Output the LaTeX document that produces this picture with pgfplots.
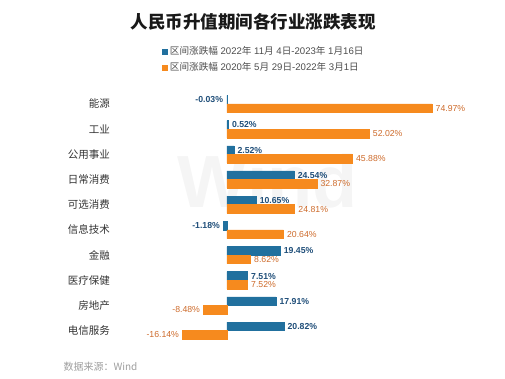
\documentclass[border=0pt]{standalone}
\usepackage{pgfplots}
\pgfplotsset{compat=1.18}
\usepackage{fontspec}
\setmainfont{Liberation Sans}
\newfontfamily\cjk{Noto Sans CJK SC}
\definecolor{barblue}{HTML}{21709E}
\definecolor{barorange}{HTML}{F68A1E}
\definecolor{lblblue}{HTML}{1F4E79}
\definecolor{lblorange}{HTML}{CD6A2A}
\begin{document}
\begin{tikzpicture}[x=1pt,y=1pt]
\useasboundingbox (0,0) rectangle (505,379);
\node[text=black!4, font=\bfseries\fontsize{74}{74}\selectfont] at (268,198) {Wind};
\node[font=\cjk\bfseries\fontsize{17.5}{20}\selectfont, text=black!90] at (253,357) {人民币升值期间各行业涨跌表现};
\node[anchor=west, font=\cjk\fontsize{10}{12}\selectfont, text=black!38] at (60,12) {数据来源：Wind};
\begin{axis}[
  at={(112pt,35.7pt)}, anchor=south west,
  scale only axis, width=333.7pt, height=251.9pt,
  xbar, bar width=8.6pt,
  xmin=-42, xmax=80, ymin=-0.5, ymax=9.5,
  axis line style={draw=none}, xtick=\empty,
  ytick={0,...,9}, major tick length=0pt,
  yticklabels={电信服务,房地产,医疗保健,金融,信息技术,可选消费,日常消费,公用事业,工业,能源},
  yticklabel style={font=\cjk\fontsize{10.5}{12}\selectfont, text=black!80, inner sep=2pt},
  clip=false,
  point meta=x,
  nodes near coords={\pgfmathprintnumber[fixed,precision=2,fixed zerofill,assume math mode=true]{\pgfplotspointmeta}\%},
  nodes near coords align={horizontal},
  legend style={at={(0.150,1.186)}, anchor=north west, draw=none, fill=none, inner sep=0pt,
    font=\fontsize{9.6}{12}\selectfont, text=black!70, row sep=2.5pt, cells={anchor=west}},
  legend cell align=left,
  legend image code/.code={\fill[#1] (0pt,-2.6pt) rectangle (5.2pt,2.6pt);},
]
\addplot[fill=barblue, draw=barblue, line width=0.5pt, bar shift=4.3pt,
  every node near coord/.append style={text=lblblue, font=\bfseries\fontsize{8.7}{10}\selectfont, inner xsep=3.5pt, inner ysep=1pt}]
  coordinates {(-0.03,9) (0.52,8) (2.52,7) (24.54,6) (10.65,5) (-1.18,4) (19.45,3) (7.51,2) (17.91,1) (20.82,0)};
\addlegendentry{{\cjk 区间涨跌幅} 2022{\cjk 年} 11{\cjk 月} 4{\cjk 日}-2023{\cjk 年} 1{\cjk 月}16{\cjk 日}}
\addplot[fill=barorange, draw=barorange, line width=0.5pt, bar shift=-4.3pt,
  every node near coord/.append style={text=lblorange, font=\fontsize{8.7}{10}\selectfont, inner xsep=3.5pt, inner ysep=1pt}]
  coordinates {(74.97,9) (52.02,8) (45.88,7) (32.87,6) (24.81,5) (20.64,4) (8.62,3) (7.52,2) (-8.48,1) (-16.14,0)};
\addlegendentry{{\cjk 区间涨跌幅} 2020{\cjk 年} 5{\cjk 月} 29{\cjk 日}-2022{\cjk 年} 3{\cjk 月}1{\cjk 日}}
\end{axis}
\end{tikzpicture}
\end{document}
